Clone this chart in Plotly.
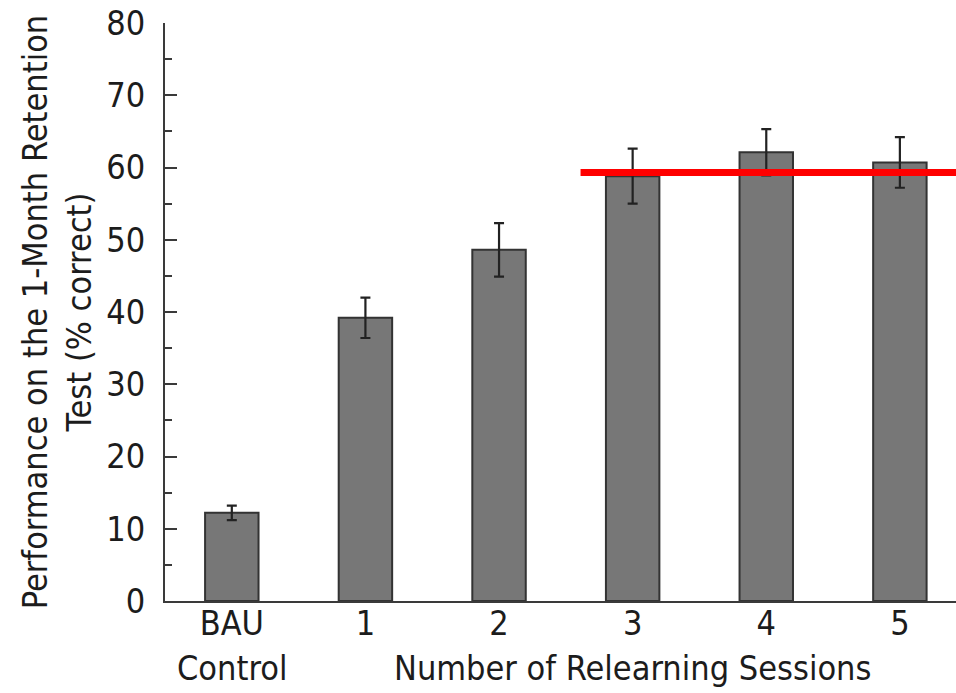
import plotly.graph_objects as go

# Retention data: mean percent correct per condition with standard errors
conditions = ["BAU", "1", "2", "3", "4", "5"]
control_sublabel = "Control"
means = [12.2, 39.2, 48.6, 58.8, 62.1, 60.7]
errors = [1.0, 2.8, 3.7, 3.8, 3.2, 3.5]
benchmark = 59.3  # reference level drawn as a red horizontal line
benchmark_start = 2.61
x_title = "Number of Relearning Sessions"

FONT = "DejaVu Sans Condensed, Liberation Sans Narrow, sans-serif"
TEXT = "#1c1c1c"
AXIS = "#3a3a3a"

x_pos = list(range(len(conditions)))

fig = go.Figure()
fig.add_trace(go.Bar(
    x=x_pos,
    y=means,
    width=0.40,
    marker=dict(color="#777777", line=dict(color="#333333", width=2)),
    error_y=dict(type="data", array=errors, visible=True,
                 color="#222222", thickness=2.2, width=5),
    showlegend=False,
))

fig.add_shape(type="line", xref="x", yref="y",
              x0=benchmark_start, x1=5.42, y0=benchmark, y1=benchmark,
              line=dict(color="#ff0000", width=7), layer="above")

# second line of the first category label, and the axis caption on the same row
for txt, xv in [(control_sublabel, 0), (x_title, 3)]:
    fig.add_annotation(text=txt, xref="x", yref="paper",
                       x=xv, y=0, yshift=-67, showarrow=False,
                       font=dict(family=FONT, size=34, color=TEXT),
                       xanchor="center", yanchor="middle", borderpad=0)

fig.update_layout(
    width=956, height=693,
    margin=dict(l=165, r=0, t=23, b=92),
    plot_bgcolor="white", paper_bgcolor="white",
    font=dict(family=FONT, size=34, color=TEXT),
    bargap=0.6,
)

fig.update_xaxes(
    range=[-0.5, 5.42],
    tickmode="array", tickvals=x_pos, ticktext=conditions,
    showline=True, linecolor=AXIS, linewidth=2,
    ticks="", showgrid=False, zeroline=False,
    ticklabelstandoff=-9, automargin=False,
    tickfont=dict(family=FONT, size=34, color=TEXT),
)

fig.update_yaxes(
    range=[0, 80], tickmode="array", tickvals=list(range(0, 81, 10)),
    showline=True, linecolor=AXIS, linewidth=2,
    ticks="inside", ticklen=12, tickwidth=2, tickcolor=AXIS,
    minor=dict(ticks="inside", ticklen=7, tickwidth=2, tickcolor=AXIS, dtick=5),
    showgrid=False, zeroline=False, automargin=False,
    ticklabelstandoff=11,
    tickfont=dict(family=FONT, size=34, color=TEXT),
    title=dict(text="Performance on the 1-Month Retention<br>Test (% correct)",
               font=dict(family=FONT, size=34, color=TEXT), standoff=4),
)

fig.write_html("out.html")
